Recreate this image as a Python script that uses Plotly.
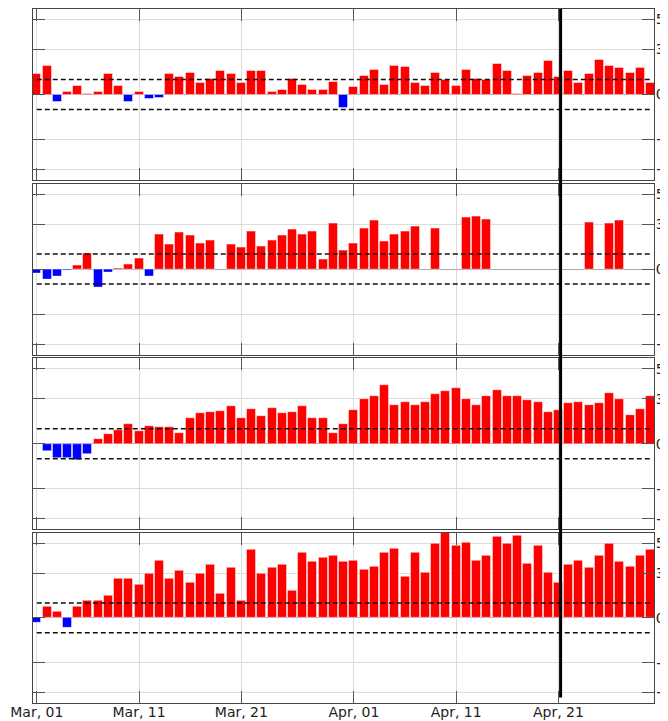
import pandas as pd
import plotly.graph_objects as go

dates = pd.date_range("2020-03-01", "2020-04-30", freq="D")

panel1 = [1.36, 1.87, -0.51, 0.16, 0.56, 0.04, 0.16, 1.36, 0.56, -0.51,
          0.16, -0.31, -0.20, 1.36, 1.16, 1.44, 0.76, 1.04, 1.56, 1.36,
          0.76, 1.56, 1.56, 0.16, 0.27, 1.04, 0.64, 0.27, 0.27, 0.84,
          -0.93, 0.47, 1.24, 1.64, 0.64, 1.93, 1.84, 0.76, 0.56, 1.44,
          0.96, 0.56, 1.64, 1.04, 0.96, 2.04, 1.56, 0.02, 1.24, 1.44,
          2.24, 1.16, 1.56, 0.76, 1.36, 2.33, 1.93, 1.76, 1.44, 1.76,
          0.76]

panel2 = [-0.29, -0.71, -0.49, -0.13, 0.24, 1.02, -1.22, -0.22, 0.03, 0.33,
          0.73, -0.49, 2.33, 1.62, 2.42, 2.22, 1.73, 1.93, None, 1.62,
          1.44, 2.53, 1.53, 1.93, 2.22, 2.62, 2.33, 2.53, 0.64, 3.02,
          1.24, 1.73, 2.73, 3.22, 1.84, 2.33, 2.53, 2.82, None, 2.73,
          None, None, 3.42, 3.53, 3.33, None, None, None, None, None,
          None, None, None, None, 3.13, None, 3.02, 3.22, None, None,
          None]

panel3 = [None, -0.51, -0.98, -0.98, -1.13, -0.73, 0.31, 0.62, 0.91, 1.31,
          0.82, 1.20, 1.11, 1.11, 0.71, 1.71, 2.02, 2.11, 2.20, 2.51,
          1.71, 2.31, 1.82, 2.40, 2.02, 2.11, 2.51, 1.71, 1.71, 0.71,
          1.31, 2.22, 3.00, 3.20, 3.91, 2.60, 2.80, 2.60, 2.80, 3.31,
          3.51, 3.71, 3.00, 2.60, 3.20, 3.60, 3.20, 3.20, 2.91, 2.80,
          2.11, 2.22, 2.71, 2.80, 2.60, 2.71, 3.40, 3.00, 1.91, 2.31,
          3.20]

panel4 = [-0.31, 0.76, 0.44, -0.69, 0.76, 1.13, 1.13, 1.47, 2.64, 2.64,
          2.24, 2.93, 3.84, 2.64, 3.13, 2.33, 2.93, 3.56, 1.64, 3.36,
          1.13, 4.53, 2.93, 3.36, 3.56, 1.84, 4.33, 3.73, 4.04, 4.13,
          3.73, 3.84, 3.22, 3.44, 4.33, 4.64, 2.76, 4.33, 3.04, 4.93,
          5.75, 4.84, 5.02, 3.84, 4.13, 5.42, 4.93, 5.51, 3.64, 4.82,
          3.04, 2.33, 3.56, 3.84, 3.36, 4.13, 4.93, 3.73, 3.44, 4.13,
          4.53]

panels = [panel1, panel2, panel3, panel4]
threshold_levels = [1, -1]
y_tickvals = [-5, -3, 0, 3, 5]
x_tickvals = ["2020-03-01", "2020-03-11", "2020-03-21", "2020-04-01", "2020-04-11", "2020-04-21"]
marker_date = pd.Timestamp("2020-04-21 05:00")

POS = "#ff0000"
NEG = "#0000ff"
DAY_MS = 86400000

x_range = [dates[0] - pd.Timedelta(days=0.37), dates[-1] + pd.Timedelta(days=0.34)]

domains = [[0.7536, 1.0], [0.502, 0.7484], [0.2504, 0.4968], [0.0, 0.2452]]

fig = go.Figure()
font = dict(family="DejaVu Sans", size=14, color="#222")

for i, vals in enumerate(panels):
    n = i + 1
    xa = "x" if n == 1 else f"x{n}"
    ya = "y" if n == 1 else f"y{n}"
    colors = [POS if (v is not None and v >= 0) else NEG for v in vals]
    fig.add_trace(go.Bar(
        x=dates, y=vals, marker=dict(color=colors,
                                     line=dict(color="rgba(255,255,255,0.45)", width=1)),
        width=0.88 * DAY_MS, xaxis=xa, yaxis=ya, showlegend=False, hoverinfo="x+y"))
    for lvl in threshold_levels:
        fig.add_trace(go.Scatter(
            x=[dates[0], dates[-1]], y=[lvl, lvl], mode="lines",
            line=dict(color="#111", width=1.5, dash="5px,3px"),
            xaxis=xa, yaxis=ya, showlegend=False, hoverinfo="skip"))

    xkey = "xaxis" if n == 1 else f"xaxis{n}"
    ykey = "yaxis" if n == 1 else f"yaxis{n}"
    fig.layout[xkey] = dict(
        domain=[0, 1], anchor=ya, type="date", range=x_range, automargin=False,
        tickvals=x_tickvals, tickformat="%b, %d", showticklabels=(n == 4),
        ticks="inside", ticklen=12, tickwidth=1.2, tickcolor="#555",
        ticklabelstandoff=-4, ticklabeloverflow="allow",
        showline=True, linecolor="#444", linewidth=1.1, mirror="ticks",
        showgrid=True, gridcolor="#dcdcdc", gridwidth=1, zeroline=False,
        tickfont=font)
    fig.layout[ykey] = dict(
        domain=domains[i], anchor=xa, side="right", range=[-5.7, 5.7], automargin=False,
        tickvals=y_tickvals, ticks="inside", ticklen=12, tickwidth=1.2, tickcolor="#555",
        ticklabelstandoff=-2, ticklabeloverflow="allow",
        showline=True, linecolor="#444", linewidth=1.1, mirror="ticks",
        showgrid=True, gridcolor="#dcdcdc", gridwidth=1,
        zeroline=True, zerolinecolor="#aaa", zerolinewidth=1,
        tickfont=font)

fig.add_shape(type="line", xref="x4", yref="paper",
              x0=marker_date, x1=marker_date, y0=0.008, y1=1.0,
              line=dict(color="black", width=3))

# the page body adds an 8px offset, so the figure is sized to end at the window edge
fig.update_layout(
    width=660, height=713,
    margin=dict(l=25, r=14, t=1, b=18, autoexpand=False),
    paper_bgcolor="white", plot_bgcolor="white",
    bargap=0, font=font, showlegend=False)

fig.write_html("out.html")
